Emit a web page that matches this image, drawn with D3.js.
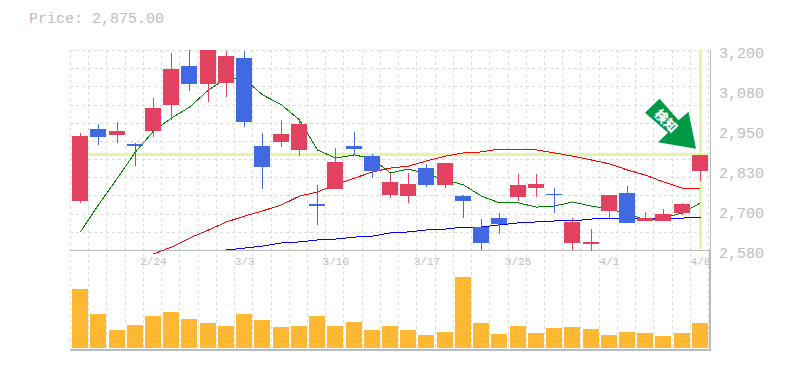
<!DOCTYPE html>
<html>
<head>
<meta charset="utf-8">
<script src="https://cdn.jsdelivr.net/npm/d3@7"></script>
<style>
  html, body { margin: 0; padding: 0; background: #fff; }
  text { font-family: "Liberation Mono", monospace; fill: #bdbdbd; }
</style>
</head>
<body>
<div id="chart"></div>
<script>
const dates = ["2/18","2/19","2/20","2/21","2/24","2/25","2/26","2/27","2/28","3/3","3/4","3/5","3/6","3/7","3/10","3/11","3/12","3/13","3/14","3/17","3/18","3/19","3/21","3/24","3/25","3/26","3/27","3/28","3/31","4/1","4/2","4/3","4/4","4/7","4/8"];
const opens  = [2730,2954,2937,2909,2949,3030,3150,3095,3098,3175,2902,2915,2890,2723,2769,2902,2871,2750,2747,2834,2781,2747,2652,2679,2744,2772,2754,2602,2599,2701,2757,2670,2670,2695,2825];
const closes = [2933,2928,2949,2902,3020,3141,3095,3215,3181,2977,2837,2940,2971,2716,2853,2893,2825,2791,2785,2781,2850,2732,2602,2661,2781,2785,2752,2667,2605,2750,2664,2679,2692,2723,2875];
const highs  = [2943,2971,2977,2912,3051,3191,3205,3230,3197,3197,2943,2983,2983,2781,2896,2946,2878,2819,2819,2847,2850,2750,2676,2695,2816,2816,2772,2679,2645,2750,2778,2698,2707,2726,2875];
const lows   = [2726,2906,2913,2841,2931,2983,3073,3039,3054,2961,2769,2899,2871,2657,2769,2874,2803,2741,2726,2775,2772,2679,2580,2630,2732,2744,2695,2580,2577,2679,2664,2670,2670,2689,2794];
const volumes = [59,34,18,23,32,36,29,25,22,34,28,21,22,32,22,26,18,22,18,13,16,71,25,14,22,15,20,21,19,13,16,15,12,15,25];
const maShort = [2636,2720,2803,2884,2949,2989,3023,3076,3113,3110,3061,3030,2983,2890,2865,2875,2862,2819,2831,2816,2797,2782,2747,2726,2726,2713,2716,2729,2716,2707,2692,2673,2679,2695,2726];
const maMid = [null,null,null,null,2568,2589,2617,2642,2667,2685,2701,2720,2747,2760,2782,2803,2822,2834,2840,2856,2871,2881,2884,2893,2893,2890,2881,2871,2859,2847,2828,2812,2791,2772,2769];
const maLong = [null,null,null,null,null,null,null,null,2580,2586,2592,2602,2605,2611,2614,2620,2623,2633,2636,2642,2645,2651,2651,2658,2664,2667,2670,2670,2676,2679,2679,2679,2679,2679,2682];
const priceTicks = [3200,3076,2952,2828,2704,2580];
const dateTicks = ["2/24","3/3","3/10","3/17","3/25","4/1","4/8"];
const lastPrice = 2875;

const width = 785, height = 370;
const upColor = "#e2425f", downColor = "#4169e1", volColor = "#ffb833";
const candleW = 16;

const svg = d3.select("#chart").append("svg")
  .attr("width", width)
  .attr("height", height)
  .style("display", "block");

const x = d3.scaleBand().domain(dates).range([70, 708.05]);
const y = d3.scaleLinear().domain([3200, 2580]).range([50, 250]);
const yVol = d3.scaleLinear().domain([0, 100]).range([348, 248]);

const cx = i => Math.round(x(dates[i]) + 10.1);

svg.append("defs").append("clipPath").attr("id", "plot")
  .append("rect").attr("x", 60).attr("y", 50).attr("width", 660).attr("height", 310);

// 그리드
const grid = svg.append("g").attr("shape-rendering", "crispEdges")
  .attr("stroke", "#dcdcdc").attr("stroke-dasharray", "3,3");
grid.selectAll(".h").data(d3.range(12)).enter().append("line")
  .attr("x1", 70).attr("x2", 709)
  .attr("y1", i => Math.round(y(3200 - i * 620 / 11)) + 0.5)
  .attr("y2", i => Math.round(y(3200 - i * 620 / 11)) + 0.5);
grid.selectAll(".v").data(dates).enter().append("line")
  .attr("x1", d => Math.round(x(d)) + 0.5)
  .attr("x2", d => Math.round(x(d)) + 0.5)
  .attr("y1", 50).attr("y2", 349);
grid.append("line").attr("x1", 708.5).attr("x2", 708.5).attr("y1", 50).attr("y2", 349);

// 현재가 강조선
const hl = svg.append("g").attr("shape-rendering", "crispEdges")
  .attr("stroke", "#e4f5a8").attr("stroke-width", 3);
hl.append("line").attr("x1", 70).attr("x2", 709).attr("y1", y(lastPrice)).attr("y2", y(lastPrice));
hl.append("line").attr("x1", cx(34) + 0.5).attr("x2", cx(34) + 0.5).attr("y1", 50).attr("y2", 249);

// 축선
const frame = svg.append("g").attr("shape-rendering", "crispEdges").attr("stroke", "#bbb");
frame.append("line").attr("x1", 70).attr("x2", 710).attr("y1", 250.5).attr("y2", 250.5);
frame.append("line").attr("x1", 70).attr("x2", 711).attr("y1", 350).attr("y2", 350).attr("stroke-width", 2);
frame.append("line").attr("x1", 710.5).attr("x2", 710.5).attr("y1", 50).attr("y2", 250);
frame.append("line").attr("x1", 710).attr("x2", 710).attr("y1", 250).attr("y2", 351).attr("stroke-width", 2);

// 이동평균선
const lineOf = d3.line()
  .defined(d => d != null)
  .x((d, i) => cx(i) + 0.5)
  .y(d => y(d));
[[maShort, "#008000"], [maMid, "#ff0000"], [maLong, "#0000ff"]].forEach(([s, c]) => {
  svg.append("path")
    .attr("d", lineOf(s))
    .attr("fill", "none")
    .attr("stroke", c)
    .attr("stroke-width", 1)
    .attr("shape-rendering", "crispEdges");
});

// 캔들
const candles = svg.append("g").attr("clip-path", "url(#plot)").attr("shape-rendering", "crispEdges");
dates.forEach((d, i) => {
  const c = closes[i] >= opens[i] ? upColor : downColor;
  candles.append("line")
    .attr("x1", cx(i) + 0.5).attr("x2", cx(i) + 0.5)
    .attr("y1", y(highs[i])).attr("y2", y(lows[i]))
    .attr("stroke", c);
  candles.append("rect")
    .attr("x", cx(i) - 8)
    .attr("y", Math.round(y(Math.max(opens[i], closes[i]))))
    .attr("width", candleW)
    .attr("height", Math.max(1, Math.round(Math.abs(y(opens[i]) - y(closes[i])))))
    .attr("fill", c);
});

// 거래량
svg.append("g").selectAll("rect").data(volumes).enter().append("rect")
  .attr("shape-rendering", "crispEdges")
  .attr("x", (d, i) => cx(i) - 8)
  .attr("y", d => yVol(d))
  .attr("width", candleW)
  .attr("height", d => yVol(0) - yVol(d))
  .attr("fill", volColor);

// 축 라벨
const axisY = svg.append("g").attr("transform", "translate(719,0)")
  .call(d3.axisRight(y).tickValues(priceTicks).tickSize(0).tickPadding(0)
    .tickFormat(d => d3.format(",")(Math.round(d / 10) * 10)));
axisY.select(".domain").remove();
axisY.selectAll("text").style("font-family", "'Liberation Mono', monospace").style("font-size", "15px")
  .attr("fill", "#bdbdbd").attr("dy", "0.5em");

const axisX = svg.append("g").attr("transform", "translate(0,257)")
  .call(d3.axisBottom(d3.scalePoint().domain(dates).range([cx(0), cx(34)])).tickValues(dateTicks).tickSize(0).tickPadding(0));
axisX.select(".domain").remove();
axisX.selectAll("text").style("font-family", "'Liberation Mono', monospace").style("font-size", "11px")
  .attr("fill", "#bdbdbd");

// 제목
svg.append("text").attr("x", 29).attr("y", 23)
  .style("font-size", "15px")
  .text("Price: " + d3.format(",.2f")(lastPrice));

// 검지 화살표 (마지막 캔들 기준)
const arrow = svg.append("g").attr("transform", `translate(${cx(34) - 4},${y(lastPrice) - 6})`);
arrow.append("polygon")
  .attr("points", "-51,-36 -36.5,-50 -17.5,-28.5 -7.5,-37 0,0 -38,-6.5 -28,-16")
  .attr("fill", "#009944");
arrow.append("text")
  .attr("transform", "translate(-30,-28) rotate(45)")
  .attr("text-anchor", "middle")
  .attr("dy", "0.36em")
  .style("font-family", "'Noto Sans CJK JP'")
  .style("font-size", "13px")
  .style("font-weight", "900")
  .style("fill", "#fff")
  .text("検知");
</script>
</body>
</html>
